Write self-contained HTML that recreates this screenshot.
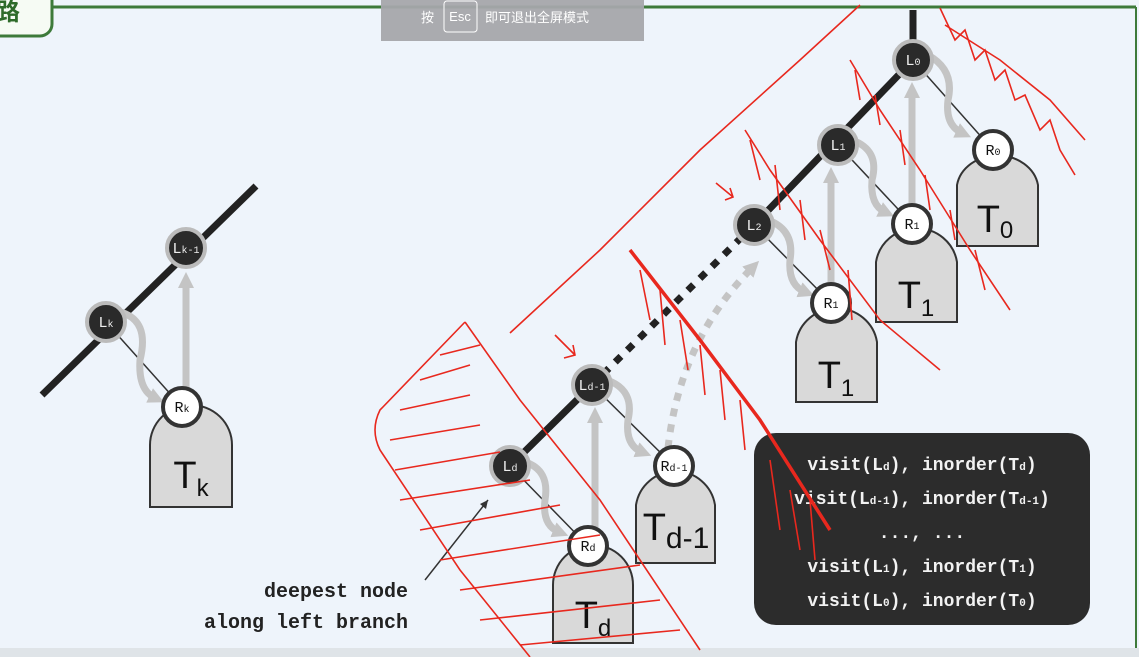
<!DOCTYPE html>
<html><head><meta charset="utf-8"><style>
html,body{margin:0;padding:0;background:#eef4fb;}
svg{display:block}
</style></head><body>
<svg width="1139" height="657" viewBox="0 0 1139 657" xmlns="http://www.w3.org/2000/svg" font-family="'Liberation Sans', sans-serif">
<rect width="1139" height="657" fill="#eef4fb"/>
<line x1="50" y1="7" x2="1136" y2="7" stroke="#3d7a3a" stroke-width="3"/>
<line x1="1136" y1="7" x2="1136" y2="657" stroke="#3d7a3a" stroke-width="2"/>
<rect x="-20" y="-20" width="72" height="56" rx="12" fill="#f6fbf4" stroke="#3d7a3a" stroke-width="3"/>
<text x="-4" y="20" font-size="24" font-weight="bold" fill="#2e6b2a" font-family="'Noto Sans CJK SC', sans-serif">路</text>
<rect x="0" y="648" width="1139" height="9" fill="#dfe4e8"/>

<defs>
<marker id="ga" markerWidth="18" markerHeight="18" refX="6" refY="9" orient="auto" markerUnits="userSpaceOnUse"><path d="M0,1 L16,9 L0,17 z" fill="#c4c4c4"/></marker>
</defs>

<!-- left group -->
<line x1="42" y1="395" x2="256" y2="186" stroke="#222" stroke-width="7"/>
<line x1="106" y1="322" x2="182" y2="407" stroke="#333" stroke-width="1.5"/>
<path d="M150 507 V445 A41 40 0 0 1 232 445 V507 Z" fill="#d9d9d9" stroke="#333" stroke-width="2"/>
<text x="191" y="488" font-size="38" text-anchor="middle" fill="#111">T<tspan font-size="24" dy="8">k</tspan></text>
<line x1="186" y1="388" x2="186" y2="282" stroke="#c4c4c4" stroke-width="7" marker-end="url(#ga)"/>
<path d="M120 312 Q150 320 140 360 Q138 390 155 398" fill="none" stroke="#c4c4c4" stroke-width="7" marker-end="url(#ga)"/>

<!-- right spine -->
<line x1="913" y1="10" x2="913" y2="50" stroke="#222" stroke-width="7"/>
<line x1="913" y1="60" x2="754" y2="225" stroke="#222" stroke-width="7"/>
<line x1="754" y1="225" x2="592" y2="385" stroke="#222" stroke-width="7" stroke-dasharray="8 9"/>
<line x1="592" y1="385" x2="500" y2="476" stroke="#222" stroke-width="7"/>
<g stroke="#333" stroke-width="1.5">
<line x1="913" y1="60" x2="993" y2="150"/><line x1="838" y1="145" x2="912" y2="224"/>
<line x1="754" y1="225" x2="831" y2="303"/><line x1="592" y1="385" x2="674" y2="466"/>
<line x1="510" y1="466" x2="588" y2="546"/></g>

<!-- trees -->
<g fill="#d9d9d9" stroke="#333" stroke-width="2">
<path d="M957 246 V185 A41 35 0 0 1 1038 185 V246 Z"/>
<path d="M876 322 V262 A41 40 0 0 1 957 262 V322 Z"/>
<path d="M796 402 V342 A41 40 0 0 1 877 342 V402 Z"/>
<path d="M636 563 V505 A40 40 0 0 1 715 505 V563 Z"/>
<path d="M553 643 V585 A40 40 0 0 1 633 585 V643 Z"/>
</g>
<g font-size="38" fill="#111" text-anchor="middle">
<text x="995" y="232">T<tspan font-size="24" dy="6">0</tspan></text>
<text x="916" y="308">T<tspan font-size="24" dy="8">1</tspan></text>
<text x="836" y="388">T<tspan font-size="24" dy="8">1</tspan></text>
<text x="676" y="540">T<tspan font-size="30" dy="8">d-1</tspan></text>
<text x="593" y="628">T<tspan font-size="24" dy="8">d</tspan></text>
</g>

<!-- gray arrows -->
<g fill="none" stroke="#c4c4c4" stroke-width="7">
<line x1="912" y1="205" x2="912" y2="92" marker-end="url(#ga)"/>
<line x1="831" y1="285" x2="831" y2="177" marker-end="url(#ga)"/>
<line x1="595" y1="528" x2="595" y2="417" marker-end="url(#ga)"/>
<path d="M928 55 Q955 70 948 100 Q945 125 962 133" marker-end="url(#ga)"/>
<path d="M852 140 Q880 150 872 180 Q870 205 885 212" marker-end="url(#ga)"/>
<path d="M768 220 Q795 230 790 260 Q788 285 805 292" marker-end="url(#ga)"/>
<path d="M607 380 Q635 390 628 420 Q625 445 642 452" marker-end="url(#ga)"/>
<path d="M525 462 Q550 470 545 500 Q542 525 559 532" marker-end="url(#ga)"/>
<path d="M668 448 Q680 340 752 268" stroke-dasharray="8 8" marker-end="url(#ga)"/>
</g>

<!-- nodes -->
<g stroke="#bbb" stroke-width="4">
<circle cx="186" cy="248" r="19" fill="#2a2a2a"/><circle cx="106" cy="322" r="19" fill="#2a2a2a"/>
<circle cx="913" cy="60" r="19" fill="#2a2a2a"/><circle cx="838" cy="145" r="19" fill="#2a2a2a"/>
<circle cx="754" cy="225" r="19" fill="#2a2a2a"/><circle cx="592" cy="385" r="19" fill="#2a2a2a"/>
<circle cx="510" cy="466" r="19" fill="#2a2a2a"/>
</g>
<g stroke="#333" stroke-width="4" fill="#fff">
<circle cx="182" cy="407" r="19"/><circle cx="993" cy="150" r="19"/><circle cx="912" cy="224" r="19"/>
<circle cx="831" cy="303" r="19"/><circle cx="674" cy="466" r="19"/><circle cx="588" cy="546" r="19"/>
</g>
<g font-size="15" text-anchor="middle" fill="#eee" font-family="'Liberation Mono', monospace">
<text x="186" y="253">L<tspan font-size="10">k-1</tspan></text>
<text x="106" y="327">L<tspan font-size="10">k</tspan></text>
<text x="913" y="65">L<tspan font-size="10">0</tspan></text>
<text x="838" y="150">L<tspan font-size="10">1</tspan></text>
<text x="754" y="230">L<tspan font-size="10">2</tspan></text>
<text x="592" y="390">L<tspan font-size="10">d-1</tspan></text>
<text x="510" y="471">L<tspan font-size="10">d</tspan></text>
</g>
<g font-size="15" text-anchor="middle" fill="#111" font-family="'Liberation Mono', monospace">
<text x="182" y="412">R<tspan font-size="10">k</tspan></text>
<text x="993" y="155">R<tspan font-size="10">0</tspan></text>
<text x="912" y="229">R<tspan font-size="10">1</tspan></text>
<text x="831" y="308">R<tspan font-size="10">1</tspan></text>
<text x="674" y="471">R<tspan font-size="10">d-1</tspan></text>
<text x="588" y="551">R<tspan font-size="10">d</tspan></text>
</g>

<!-- black box -->
<rect x="754" y="433" width="336" height="192" rx="22" fill="#2c2c2c"/>
<g font-family="'Liberation Mono', monospace" font-size="18" font-weight="bold" fill="#f2f2f2" text-anchor="middle">
<text x="922" y="470">visit(L<tspan font-size="11">d</tspan>), inorder(T<tspan font-size="11">d</tspan>)</text>
<text x="922" y="504">visit(L<tspan font-size="11">d-1</tspan>), inorder(T<tspan font-size="11">d-1</tspan>)</text>
<text x="922" y="538">..., ...</text>
<text x="922" y="572">visit(L<tspan font-size="11">1</tspan>), inorder(T<tspan font-size="11">1</tspan>)</text>
<text x="922" y="606">visit(L<tspan font-size="11">0</tspan>), inorder(T<tspan font-size="11">0</tspan>)</text>
</g>

<g font-family="'Liberation Mono', monospace" font-size="20" font-weight="bold" fill="#222" text-anchor="end">
<text x="408" y="597">deepest node</text>
<text x="408" y="628">along left branch</text>
</g>
<line x1="425" y1="580" x2="488" y2="500" stroke="#333" stroke-width="1.5"/>
<path d="M488 500 L480 504 L486 509 Z" fill="#333"/>

<!-- red annotations -->
<g fill="none" stroke="#e8281e" stroke-width="1.6">
<path d="M510 333 L600 250 L700 150 L800 60 L860 5"/>
<path d="M465 322 L380 410 Q370 430 380 450 L460 570 L530 657"/>
<path d="M465 322 L520 400 L600 500 L700 650"/>
<path d="M390 440 L480 425 M395 470 L500 452 M400 500 L530 480 M420 530 L560 505 M440 560 L600 535 M460 590 L640 565 M480 620 L660 600 M520 645 L680 630 M400 410 L470 395 M420 380 L470 365 M440 355 L480 345"/>
<path d="M630 250 L700 340 L760 420 L830 530" stroke-width="3.5"/>
<path d="M640 270 L650 320 M660 290 L665 345 M680 320 L688 370 M700 345 L705 395 M720 370 L725 420 M740 400 L745 450 M770 460 L780 530 M790 490 L800 550 M810 500 L815 560"/>
<path d="M745 130 L770 170 L820 240 L880 320 L940 370"/>
<path d="M750 140 L760 180 M775 165 L780 210 M800 200 L805 240 M820 230 L830 270 M848 270 L852 320"/>
<path d="M850 60 L880 110 L920 170 L970 250 L1010 310"/>
<path d="M855 70 L860 100 M875 95 L880 125 M900 130 L905 165 M925 175 L930 210 M950 210 L955 240 M975 250 L985 290"/>
<path d="M940 8 L955 40 L965 30 L975 60 L985 50 L995 80 L1005 70 L1015 100 L1025 95 L1040 130 L1050 120 L1060 150 L1075 175"/>
<path d="M945 25 L1000 60 L1050 100 L1085 140"/>
<path d="M716 183 L733 197 M725 200 L733 197 L730 188"/>
<path d="M555 335 L575 355 M564 358 L575 355 L573 345"/>
</g>

<!-- esc overlay -->
<rect x="381" y="0" width="263" height="41" fill="#a5a7ab" opacity="0.95"/>
<text x="421" y="22" font-size="13" fill="#fff" font-family="'Noto Sans CJK SC', sans-serif">按</text>
<rect x="444" y="1" width="33" height="31" rx="3" fill="none" stroke="#fff" stroke-width="1"/>
<text x="460" y="21" font-size="13" fill="#fff" text-anchor="middle">Esc</text>
<text x="485" y="22" font-size="13" fill="#fff" font-family="'Noto Sans CJK SC', sans-serif">即可退出全屏模式</text>
</svg>
</body></html>
